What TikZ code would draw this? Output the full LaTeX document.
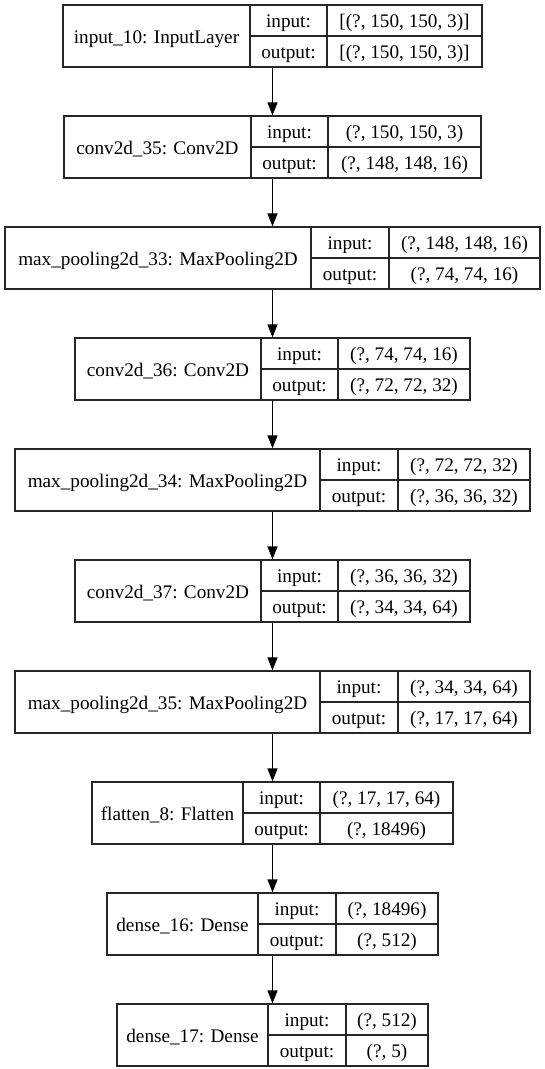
\documentclass[tikz,border=0pt]{standalone}
\usepackage{fontspec}
\setmainfont{Liberation Serif}
\usepackage{tikz}
\usetikzlibrary{arrows.meta}

\begin{document}
\begin{tikzpicture}[
    x=1pt, y=1pt,
    font=\fontsize{19.2}{22}\selectfont,
    layer/.style={draw=black!85, line width=1.3pt, minimum height=62pt, inner sep=0pt},
    cell/.style={draw=black!85, line width=1.3pt},
    txt/.style={inner sep=0pt, text height=14pt, text depth=0pt},
    arrow/.style={-{Triangle[length=13pt, width=10pt]}, line width=1.3pt},
]
    \path[fill=white, use as bounding box] (0,0) rectangle (545,-1069);

    % one record per layer: left edge, two dividers, name, input, output
    \foreach \i/\l/\da/\db/\name/\inp/\outp in {
        1/63/250/327/{input\_10: InputLayer}/{[(?, 150, 150, 3)]}/{[(?, 150, 150, 3)]},
        2/64/251/328/{conv2d\_35: Conv2D}/{(?, 150, 150, 3)}/{(?, 148, 148, 16)},
        3/5/311/389/{max\_pooling2d\_33: MaxPooling2D}/{(?, 148, 148, 16)}/{(?, 74, 74, 16)},
        4/75/261/338/{conv2d\_36: Conv2D}/{(?, 74, 74, 16)}/{(?, 72, 72, 32)},
        5/15/320/398/{max\_pooling2d\_34: MaxPooling2D}/{(?, 72, 72, 32)}/{(?, 36, 36, 32)},
        6/75/261/338/{conv2d\_37: Conv2D}/{(?, 36, 36, 32)}/{(?, 34, 34, 64)},
        7/15/320/398/{max\_pooling2d\_35: MaxPooling2D}/{(?, 34, 34, 64)}/{(?, 17, 17, 64)},
        8/92/243/320/{flatten\_8: Flatten}/{(?, 17, 17, 64)}/{(?, 18496)},
        9/107/258/336/{dense\_16: Dense}/{(?, 18496)}/{(?, 512)},
        10/117/268/346/{dense\_17: Dense}/{(?, 512)}/{(?, 5)}
    }{
        \pgfmathsetmacro\ytop{-5-111*(\i-1)}
        \pgfmathsetmacro\ymid{\ytop-31}
        \pgfmathsetmacro\ybot{\ytop-62}
        \pgfmathsetmacro\xr{545-\l}
        \node[layer, minimum width={(545-2*\l)*1pt}] (L\i) at (272.5,\ymid) {};
        \draw[cell] (\da,\ytop) -- (\da,\ybot) (\db,\ytop) -- (\db,\ybot)
                    (\da,\ymid) -- (\xr,\ymid);
        \node[txt] (N\i) at ({(\l+\da)/2},\ymid) {\name};
        \node[txt] (I\i) at ({(\da+\db)/2},\ymid+15.5) {input:};
        \node[txt] (O\i) at ({(\da+\db)/2},\ymid-15.5) {output:};
        \node[txt] (IV\i) at ({(\db+\xr)/2},\ymid+15.5) {\inp};
        \node[txt] (OV\i) at ({(\db+\xr)/2},\ymid-15.5) {\outp};
    }

    \foreach \a/\b in {1/2, 2/3, 3/4, 4/5, 5/6, 6/7, 7/8, 8/9, 9/10}
        \draw[arrow] (L\a) -- (L\b);
\end{tikzpicture}
\end{document}
